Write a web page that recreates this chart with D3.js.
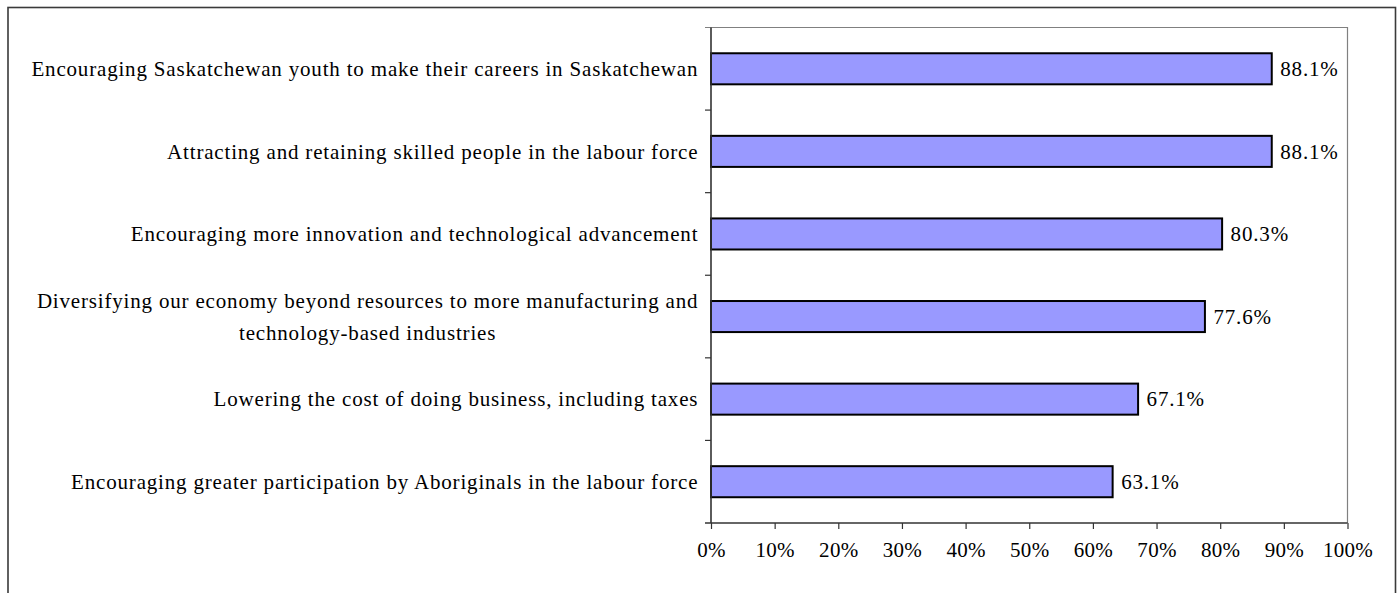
<!DOCTYPE html>
<html>
<head>
<meta charset="utf-8">
<script src="https://cdn.jsdelivr.net/npm/d3@7"></script>
<style>
  html, body { margin: 0; padding: 0; background: #fff; }
  svg { display: block; }
  text { font-family: "Liberation Serif", "Times New Roman", serif; fill: #000; }
</style>
</head>
<body>
<svg id="chart" width="1397" height="593"></svg>
<script>
// Priorities for the provincial economy, share of respondents
const categories = [
  "Encouraging Saskatchewan youth to make their careers in Saskatchewan",
  "Attracting and retaining skilled people in the labour force",
  "Encouraging more innovation and technological advancement",
  "Diversifying our economy beyond resources to more manufacturing and|technology-based industries",
  "Lowering the cost of doing business, including taxes",
  "Encouraging greater participation by Aboriginals in the labour force"
];
const values = [88.1, 88.1, 80.3, 77.6, 67.1, 63.1];
const tickValues = [0, 10, 20, 30, 40, 50, 60, 70, 80, 90, 100];

const svg = d3.select("#chart");
const plot = { left: 711, right: 1347.5, top: 27.5, bottom: 523 };
const fontSize = 21;
const spacing = 0.82;

// outer chart border
svg.append("rect")
  .attr("x", 8).attr("y", 7.5)
  .attr("width", 1387.5).attr("height", 620)
  .attr("fill", "none").attr("stroke", "#3a3a3a").attr("stroke-width", 1.6);

const x = d3.scaleLinear().domain([0, 100]).range([plot.left, plot.right]);
const y = d3.scaleBand().domain(categories)
  .range([plot.top, plot.bottom])
  .paddingInner(0.624).paddingOuter(0.312);

// plot frame (top and right edges)
svg.append("path")
  .attr("d", `M${plot.left - 6},${plot.top}H${plot.right}V${plot.bottom}`)
  .attr("fill", "none").attr("stroke", "#808080").attr("stroke-width", 1.2);

// bars
svg.append("g").selectAll("rect")
  .data(values)
  .join("rect")
  .attr("x", x(0))
  .attr("y", (d, i) => y(categories[i]))
  .attr("width", d => x(d) - x(0))
  .attr("height", y.bandwidth())
  .attr("fill", "#9999FF")
  .attr("stroke", "#000")
  .attr("stroke-width", 2);

// value labels
svg.append("g").selectAll("text")
  .data(values)
  .join("text")
  .attr("x", d => x(d) + 8.5)
  .attr("y", (d, i) => y(categories[i]) + y.bandwidth() / 2)
  .attr("dy", "0.35em")
  .attr("font-size", fontSize)
  .attr("letter-spacing", spacing)
  .text(d => d.toFixed(1) + "%");

// category axis: line and ticks at band boundaries
const step = y.step();
const bounds = d3.range(categories.length + 1).map(i => plot.top + i * step);
const yAxis = svg.append("g");
yAxis.append("line")
  .attr("x1", plot.left).attr("x2", plot.left)
  .attr("y1", plot.top).attr("y2", plot.bottom)
  .attr("stroke", "#333").attr("stroke-width", 1.6);
yAxis.selectAll("line.tick")
  .data(bounds.slice(1, -1))
  .join("line").attr("class", "tick")
  .attr("x1", plot.left - 6).attr("x2", plot.left)
  .attr("y1", d => d).attr("y2", d => d)
  .attr("stroke", "#333").attr("stroke-width", 1.2);

// category labels, right aligned; wrapped lines centred on the first line
const labelRight = plot.left - 13.5 + spacing;
const lineGap = 32;
categories.forEach((c, i) => {
  const lines = c.split("|");
  const cy = y(c) + y.bandwidth() / 2;
  const first = svg.append("text")
    .attr("font-size", fontSize)
    .attr("letter-spacing", spacing)
    .attr("text-anchor", "end")
    .attr("x", labelRight)
    .attr("y", cy - (lines.length - 1) * lineGap / 2)
    .attr("dy", "0.35em")
    .text(lines[0]);
  if (lines.length > 1) {
    const w = first.node().getComputedTextLength();
    lines.slice(1).forEach((ln, k) => {
      svg.append("text")
        .attr("font-size", fontSize)
        .attr("letter-spacing", spacing)
        .attr("text-anchor", "middle")
        .attr("x", labelRight - w / 2)
        .attr("y", cy - (lines.length - 1) * lineGap / 2 + (k + 1) * lineGap)
        .attr("dy", "0.35em")
        .text(ln);
    });
  }
});

// value axis at the bottom
const xAxis = svg.append("g")
  .attr("transform", `translate(0,${plot.bottom})`)
  .call(d3.axisBottom(x).tickValues(tickValues).tickSize(6).tickPadding(13)
    .tickFormat(d => d + "%"));
xAxis.select(".domain").remove();
xAxis.append("line")
  .attr("x1", plot.left - 6).attr("x2", plot.right)
  .attr("stroke", "#333").attr("stroke-width", 1.6);
xAxis.selectAll(".tick line").attr("stroke", "#333").attr("stroke-width", 1.2);
xAxis.selectAll(".tick text")
  .attr("font-size", fontSize)
  .attr("letter-spacing", 0.3)
  .attr("font-family", "Liberation Serif, Times New Roman, serif")
  .attr("fill", "#000");
</script>
</body>
</html>
